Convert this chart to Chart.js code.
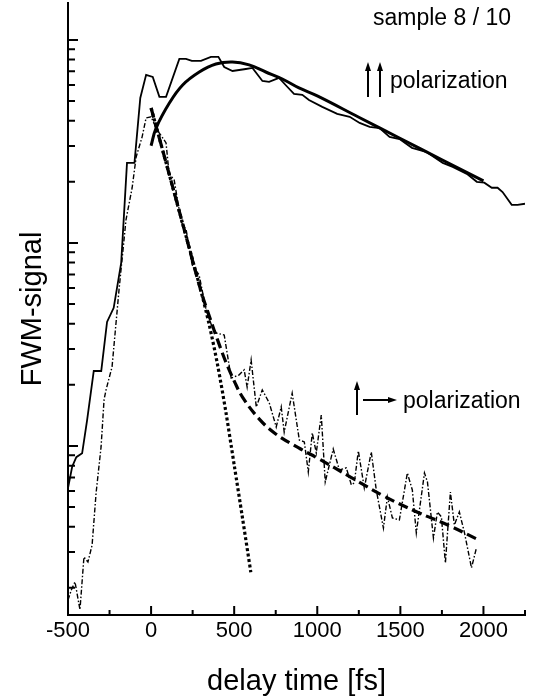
<!DOCTYPE html>
<html>
<head>
<meta charset="utf-8">
<script src="https://cdn.jsdelivr.net/npm/chart.js@4/dist/chart.umd.min.js"></script>
<style>
  body { margin: 0; background: #fff; }
  #wrap { width: 535px; height: 698px; }
</style>
</head>
<body>
<div id="wrap"><canvas id="fwm" width="535" height="698"></canvas></div>
<script>
// parallel polarization, measured
const parTime = [-500, -475, -450, -415, -385, -345, -300, -265, -225, -180, -145, -100, -65, -30, 10, 50, 90,
  170, 210, 245, 300, 360, 405, 440, 490, 570, 610, 670, 710, 770, 815, 860, 910, 950, 1030, 1120, 1195,
  1255, 1315, 1375, 1435, 1495, 1570, 1655, 1755, 1815, 1900, 1960, 2005, 2050, 2085, 2115, 2170, 2205, 2250];
const parSignal = [0.62, 0.79, 0.88, 0.92, 1.34, 2.34, 2.34, 4.08, 4.79, 7.97, 24.8, 24.8, 51.8, 67.3, 65.7, 52.4, 52.4,
  80.6, 80.6, 78.8, 78.8, 82.5, 82.5, 73.6, 70.3, 71.9, 72.8, 62.8, 62.1, 65.0, 59.3, 54.2, 53.6, 50.6, 46.8, 43.2, 41.8,
  39.0, 37.3, 36.8, 33.3, 32.5, 29.4, 28.1, 24.8, 23.7, 21.9, 20.0, 19.8, 18.7, 18.7, 17.8, 15.4, 15.4, 15.6];

// perpendicular polarization, measured
const perpTime = [-500, -480, -458, -428, -404, -380, -355, -331, -301, -283, -271, -235, -193, -151, -114, -90, -54, -30,
  0, 36, 66, 90, 108, 139, 181, 211, 247, 289, 331, 367, 392, 440, 482, 530, 560, 578, 602, 633, 669, 711, 753, 783,
  801, 849, 892, 922, 946, 970, 994, 1024, 1048, 1096, 1133, 1175, 1205, 1223, 1247, 1283, 1325, 1355, 1398, 1422,
  1452, 1494, 1542, 1572, 1596, 1645, 1663, 1699, 1723, 1747, 1771, 1801, 1825, 1855, 1886, 1928, 1958];
const perpSignal = [0.174, 0.195, 0.214, 0.156, 0.284, 0.268, 0.325, 0.586, 0.989, 1.69, 1.89, 2.45, 5.87, 13.0, 18.7, 26.5, 33.3, 41.3,
  41.8, 36.0, 33.3, 31.1, 22.1, 20.4, 12.7, 11.6, 7.8, 6.95, 4.68, 3.86, 3.60, 3.52, 2.16, 2.24, 2.37, 1.95, 2.65, 1.556, 1.888, 1.63, 1.24, 1.556,
  1.17, 1.82, 1.07, 1.047, 0.745, 1.159, 0.924, 1.42, 0.665, 0.966, 0.762, 0.780, 0.643, 0.658, 0.945, 0.621, 0.934, 0.607, 0.394, 0.561,
  0.442, 0.432, 0.736, 0.607, 0.373, 0.736, 0.665, 0.352, 0.473, 0.447, 0.265, 0.593, 0.408, 0.473, 0.373, 0.251, 0.315];

// fits
const parFitTime = [0, 30, 110, 190, 290, 390, 490, 590, 690, 790, 890, 1000, 1250, 1500, 1750, 2000];
const parFitSignal = [30.1, 36.8, 48.9, 60.0, 69.5, 76.1, 77.9, 75.3, 69.5, 64.2, 58.0, 53.0, 41.6, 32.7, 25.7, 20.2];

const fastFitTime = [0, 100, 200, 300, 350, 400, 450, 500, 550, 600];
const fastFitSignal = [46.2, 23.2, 11.6, 5.80, 3.95, 2.51, 1.47, 0.806, 0.442, 0.239];

const biexpFitTime = [0, 100, 200, 300, 350, 400, 450, 500, 550, 650, 750, 900, 1000, 1200, 1400, 1600, 1800, 1960];
const biexpFitSignal = [46.2, 23.2, 11.6, 5.80, 4.37, 3.33, 2.59, 2.09, 1.74, 1.36, 1.146, 0.966, 0.873, 0.703, 0.567, 0.473, 0.403, 0.348];

// axis ticks
const xMin = -500, xMax = 2250, xStep = 250, xLabelStep = 500;
const yMin = 0.147, yMax = 152;
const yTickValues = [0.2, 0.3, 0.4, 0.5, 0.6, 0.7, 0.8, 0.9, 1, 2, 3, 4, 5, 6, 7, 8, 9,
  10, 20, 30, 40, 50, 60, 70, 80, 90, 100];

const FONT = '"Liberation Sans", Arial, sans-serif';

function pts(xs, ys) {
  return xs.map((x, i) => ({ x: x, y: ys[i] }));
}

// tick marks pointing into the plot
const inwardTicks = {
  id: 'inwardTicks',
  afterDraw(chart) {
    const ctx = chart.ctx;
    const xs = chart.scales.x, ys = chart.scales.y;
    ctx.save();
    ctx.strokeStyle = '#000';
    ctx.lineWidth = 2;
    ctx.beginPath();
    xs.ticks.forEach(t => {
      const px = xs.getPixelForValue(t.value);
      const len = t.value % xLabelStep === 0 ? 9 : 5;
      ctx.moveTo(px, xs.top);
      ctx.lineTo(px, xs.top - len);
    });
    yTickValues.forEach(v => {
      const py = ys.getPixelForValue(v);
      const major = Math.abs(Math.log10(v) - Math.round(Math.log10(v))) < 1e-9;
      ctx.moveTo(ys.right, py);
      ctx.lineTo(ys.right + (major ? 10 : 7), py);
    });
    ctx.stroke();
    ctx.restore();
  }
};

function arrowUp(ctx, x, yTip, yEnd) {
  ctx.beginPath();
  ctx.moveTo(x, yEnd);
  ctx.lineTo(x, yTip + 6);
  ctx.stroke();
  ctx.beginPath();
  ctx.moveTo(x, yTip);
  ctx.lineTo(x - 3, yTip + 9);
  ctx.lineTo(x + 3, yTip + 9);
  ctx.closePath();
  ctx.fill();
}

function arrowRight(ctx, xStart, xTip, y) {
  ctx.beginPath();
  ctx.moveTo(xStart, y);
  ctx.lineTo(xTip - 6, y);
  ctx.stroke();
  ctx.beginPath();
  ctx.moveTo(xTip, y);
  ctx.lineTo(xTip - 9, y - 3);
  ctx.lineTo(xTip - 9, y + 3);
  ctx.closePath();
  ctx.fill();
}

const labels = {
  id: 'labels',
  afterDraw(chart) {
    const ctx = chart.ctx;
    ctx.save();
    ctx.fillStyle = '#000';
    ctx.strokeStyle = '#000';
    ctx.lineWidth = 2;
    ctx.font = '23px ' + FONT;
    ctx.textBaseline = 'alphabetic';
    ctx.fillText('sample 8 / 10', 373, 25);
    ctx.fillText('polarization', 390, 88);
    ctx.fillText('polarization', 403, 408);
    arrowUp(ctx, 368, 62, 97);
    arrowUp(ctx, 380, 62, 97);
    arrowUp(ctx, 357, 381, 415);
    arrowRight(ctx, 363, 397, 400);
    ctx.restore();
  }
};

new Chart(document.getElementById('fwm'), {
  type: 'line',
  data: {
    datasets: [
      {
        label: 'parallel',
        data: pts(parTime, parSignal),
        borderColor: '#000', borderWidth: 1.8, tension: 0
      },
      {
        label: 'perpendicular',
        data: pts(perpTime, perpSignal),
        borderColor: '#000', borderWidth: 1.4, borderDash: [5, 2, 1.5, 2], tension: 0
      },
      {
        label: 'parallel fit',
        data: pts(parFitTime, parFitSignal),
        borderColor: '#000', borderWidth: 3, tension: 0.4
      },
      {
        label: 'fast fit',
        data: pts(fastFitTime, fastFitSignal),
        borderColor: '#000', borderWidth: 3.2, borderDash: [3, 2.5], tension: 0.3
      },
      {
        label: 'biexp fit',
        data: pts(biexpFitTime, biexpFitSignal),
        borderColor: '#000', borderWidth: 3.2, borderDash: [10, 5], tension: 0.4
      }
    ]
  },
  options: {
    responsive: false,
    animation: false,
    elements: { point: { radius: 0 } },
    layout: { padding: { top: 3, right: 10, left: 0, bottom: 0 } },
    plugins: { legend: { display: false }, tooltip: { enabled: false } },
    scales: {
      x: {
        type: 'linear',
        min: xMin, max: xMax,
        grid: { display: false, drawTicks: false },
        border: { display: true, color: '#000', width: 2 },
        ticks: {
          stepSize: xStep,
          autoSkip: false,
          maxRotation: 0,
          padding: 3,
          color: '#000',
          font: { family: FONT, size: 22 },
          callback: v => (v % xLabelStep === 0 ? String(v) : '')
        },
        title: {
          display: true,
          text: 'delay time [fs]',
          color: '#000',
          font: { family: FONT, size: 29, lineHeight: 1 },
          padding: { top: 0, bottom: 2 }
        },
        afterFit: s => { s.height = 83; }
      },
      y: {
        type: 'logarithmic',
        min: yMin, max: yMax,
        grid: { display: false, drawTicks: false },
        border: { display: true, color: '#000', width: 2 },
        ticks: { display: false },
        title: {
          display: true,
          text: 'FWM-signal',
          color: '#000',
          font: { family: FONT, size: 29, lineHeight: 1 },
          padding: { top: 18, bottom: 0 }
        },
        afterFit: s => { s.width = 68; }
      }
    }
  },
  plugins: [inwardTicks, labels]
});
</script>
</body>
</html>
